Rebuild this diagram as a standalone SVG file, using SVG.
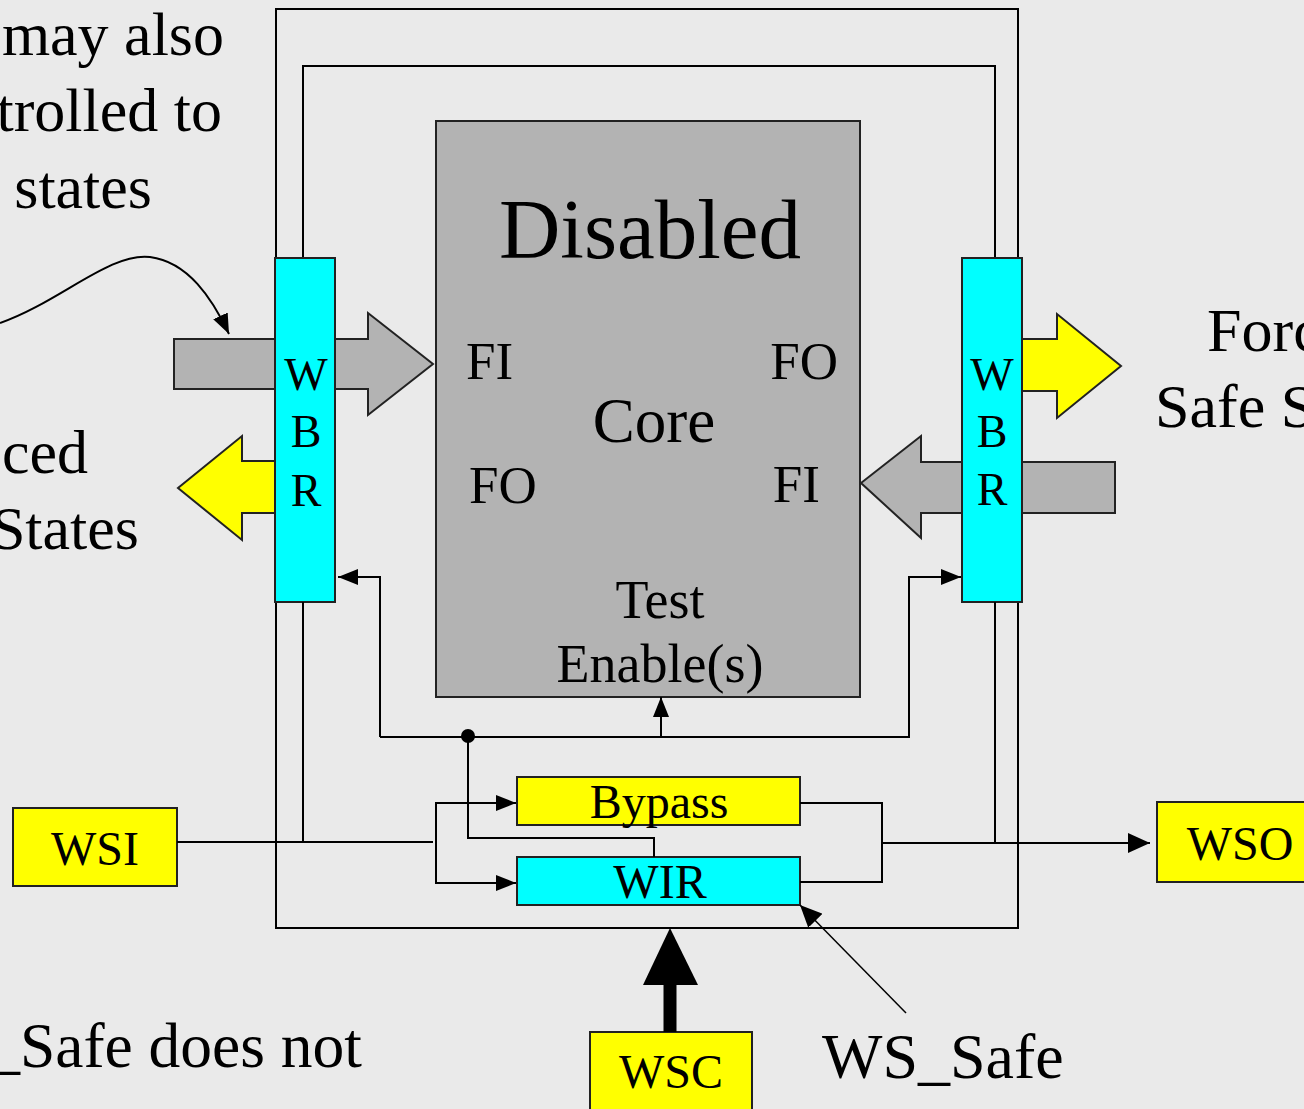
<svg xmlns="http://www.w3.org/2000/svg" width="1304" height="1109" viewBox="0 0 1304 1109">
<defs>
<style>
.t{font-family:"Liberation Serif","Times New Roman",serif;fill:#000}
.ln{fill:none;stroke:#000;stroke-width:2}
.box{stroke:#222;stroke-width:2}
.cy{fill:#00FFFF}
.ye{fill:#FFFF00}
.gr{fill:#B3B3B3}
</style>
<marker id="ah" viewBox="0 0 20 16" refX="20" refY="8" markerWidth="20" markerHeight="16" markerUnits="userSpaceOnUse" orient="auto">
<path d="M0,0 L20,8 L0,16 z" fill="#000"/>
</marker>
<marker id="ahL" viewBox="0 0 22 20" refX="22" refY="10" markerWidth="22" markerHeight="20" markerUnits="userSpaceOnUse" orient="auto">
<path d="M0,0 L22,10 L0,20 z" fill="#000"/>
</marker>
</defs>
<rect width="1304" height="1109" fill="#EAEAEA"/>

<g id="notes">
<text class="t" x="224" y="55" font-size="62" text-anchor="end">may also</text>
<text class="t" x="222" y="131" font-size="62" text-anchor="end">trolled to</text>
<text class="t" x="152" y="208" font-size="62" text-anchor="end">states</text>
<text class="t" x="88" y="473" font-size="62" text-anchor="end">ced</text>
<text class="t" x="139" y="549" font-size="62" text-anchor="end">States</text>
<text class="t" x="1207" y="351" font-size="62">Forc</text>
<text class="t" x="1155" y="427" font-size="62">Safe S</text>
<text class="t" x="362" y="1067" font-size="63.5" text-anchor="end">_Safe does not</text>
<text class="t" x="822" y="1078" font-size="64">WS_Safe</text>
</g>

<g id="frame">
<rect x="276" y="9" width="742" height="919" class="ln"/>
<path d="M303,258 V66 H995 V258" class="ln"/>
</g>

<g id="arrows-big">
<polygon points="174,339 368,339 368,313 433,364 368,415 368,389 174,389" class="gr box"/>
<polygon points="1115,462 921,462 921,436 861,483 921,538 921,513 1115,513" class="gr box"/>
<polygon points="275,461 242,461 242,436 178,488 242,540 242,513 275,513" class="ye box"/>
<polygon points="1022,339 1057,339 1057,314 1121,366 1057,418 1057,391 1022,391" class="ye box"/>
</g>

<g id="core">
<rect x="436" y="121" width="424" height="576" class="gr box"/>
<text class="t" x="650" y="258" font-size="85" text-anchor="middle">Disabled</text>
<text class="t" x="466" y="379" font-size="53">FI</text>
<text class="t" x="838" y="379" font-size="53" text-anchor="end">FO</text>
<text class="t" x="654" y="442" font-size="63" text-anchor="middle">Core</text>
<text class="t" x="469" y="503" font-size="53">FO</text>
<text class="t" x="820" y="502" font-size="53" text-anchor="end">FI</text>
<text class="t" x="660" y="618" font-size="54" text-anchor="middle">Test</text>
<text class="t" x="660" y="682" font-size="54" text-anchor="middle">Enable(s)</text>
</g>

<g id="wbr-left">
<rect x="275" y="258" width="60" height="344" class="cy box"/>
<text class="t" x="306" y="390" font-size="46" text-anchor="middle">W</text>
<text class="t" x="306" y="447" font-size="46" text-anchor="middle">B</text>
<text class="t" x="306" y="506" font-size="46" text-anchor="middle">R</text>
</g>

<g id="wbr-right">
<rect x="962" y="258" width="60" height="344" class="cy box"/>
<text class="t" x="992" y="390" font-size="46" text-anchor="middle">W</text>
<text class="t" x="992" y="447" font-size="46" text-anchor="middle">B</text>
<text class="t" x="992" y="505" font-size="46" text-anchor="middle">R</text>
</g>

<g id="bypass">
<rect x="517" y="777" width="283" height="48" class="ye box"/>
<text class="t" x="659" y="818" font-size="48" text-anchor="middle">Bypass</text>
</g>

<g id="wir">
<rect x="517" y="857" width="283" height="48" class="cy box"/>
<text class="t" x="660" y="898" font-size="48" text-anchor="middle">WIR</text>
</g>

<g id="wsi">
<rect x="13" y="808" width="164" height="78" class="ye box"/>
<text class="t" x="95" y="865" font-size="48" text-anchor="middle">WSI</text>
</g>

<g id="wso">
<rect x="1157" y="802" width="160" height="80" class="ye box"/>
<text class="t" x="1240" y="860" font-size="48" text-anchor="middle">WSO</text>
</g>

<g id="wsc">
<rect x="590" y="1032" width="162" height="90" class="ye box"/>
<text class="t" x="671" y="1088" font-size="48" text-anchor="middle">WSC</text>
</g>

<g id="connectors">
<path d="M0,323 C60,302 110,252 150,257 C188,262 212,298 229,334" class="ln" marker-end="url(#ah)"/>
<path d="M303,602 V843" class="ln"/>
<path d="M995,602 V843" class="ln"/>
<path d="M177,842 H433" class="ln"/>
<path d="M436,842 V803 H516" class="ln" marker-end="url(#ah)"/>
<path d="M436,842 V883 H516" class="ln" marker-end="url(#ah)"/>
<path d="M380,737 V577 H338" class="ln" marker-end="url(#ah)"/>
<path d="M380,737 H909 V577 H961" class="ln" marker-end="url(#ah)"/>
<path d="M661,737 V697" class="ln" marker-end="url(#ah)"/>
<circle cx="468" cy="736" r="7" fill="#000"/>
<path d="M468,736 V838 H654 V857" class="ln"/>
<path d="M800,803 H882 V882 H800" class="ln"/>
<path d="M882,843 H1150" class="ln" marker-end="url(#ahL)"/>
<path d="M906,1013 L800,905" fill="none" stroke="#000" stroke-width="1.5" marker-end="url(#ahL)"/>
<path d="M670,1032 V980" stroke="#000" stroke-width="13" fill="none"/>
<polygon points="670,928 643,985 698,985" fill="#000"/>
</g>
</svg>
